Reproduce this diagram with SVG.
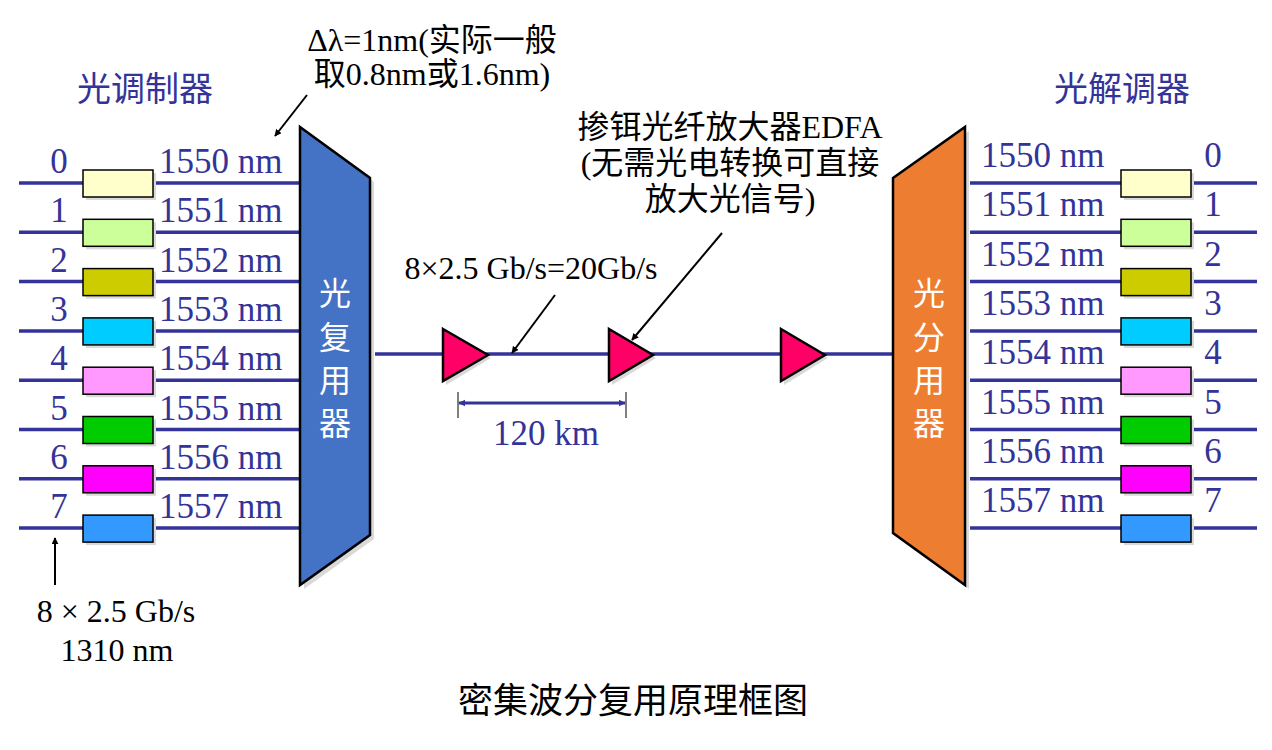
<svg xmlns="http://www.w3.org/2000/svg" width="1272" height="750" viewBox="0 0 1272 750">
<defs>
<style>
.blue{font-family:"Liberation Serif","Noto Sans CJK SC",serif;font-size:35px;fill:#333399}
.blk{font-family:"Liberation Serif","Noto Sans CJK SC",serif;font-size:32px;fill:#000}
.cjkb{font-family:"Noto Sans CJK SC",sans-serif;font-size:34px;fill:#333399}
.white{font-family:"Noto Sans CJK SC",sans-serif;font-size:32px;fill:#fff}
.title{font-family:"Noto Sans CJK SC",sans-serif;font-size:35px;fill:#000}
.fiber{stroke:#333399;stroke-width:3.5;fill:none}
.box{stroke:#000;stroke-width:1.5}
.shadow{fill:#d9d9d9}
.amp{fill:#FF0066;stroke:#000;stroke-width:2.5;stroke-linejoin:miter}
.ptr{stroke:#000;stroke-width:2;fill:none;marker-end:url(#ah)}
</style>
<marker id="ah" viewBox="0 0 10 10" refX="9" refY="5" markerWidth="7" markerHeight="7" orient="auto" markerUnits="userSpaceOnUse">
<path d="M0,0 L10,5 L0,10 z" fill="#000"/>
</marker>
<marker id="bh" viewBox="0 0 10 10" refX="9" refY="5" markerWidth="7" markerHeight="8" orient="auto-start-reverse" markerUnits="userSpaceOnUse">
<path d="M0,0 L10,5 L0,10 z" fill="#333399"/>
</marker>
</defs>
<rect width="1272" height="750" fill="#fff"/>

<g id="connectors">
<g id="left-fibers" class="fiber">
<path d="M19,183H300M19,232.3H300M19,281.6H300M19,330.9H300M19,380.2H300M19,429.5H300M19,478.8H300M19,528.1H300"/>
</g>
<g id="right-fibers" class="fiber">
<path d="M970,183H1257M970,232.3H1257M970,281.6H1257M970,330.9H1257M970,380.2H1257M970,429.5H1257M970,478.8H1257M970,528.1H1257"/>
</g>
<path id="trunk" class="fiber" d="M375,354H893"/>
<path class="ptr" d="M307,95L275,136"/>
<path class="ptr" d="M555,295L512,353"/>
<path class="ptr" d="M722,233L632,340"/>
<path class="ptr" d="M55,585V538"/>
<g id="dimension">
<path d="M458,392V418M626,392V418" stroke="#000" stroke-width="1"/>
<path d="M459,403H625" stroke="#333399" stroke-width="3" marker-start="url(#bh)" marker-end="url(#bh)"/>
</g>
</g>

<g id="modulator-boxes">
<g class="shadow">
<rect x="86" y="173" width="70" height="27"/><rect x="86" y="222.3" width="70" height="27"/><rect x="86" y="271.6" width="70" height="27"/><rect x="86" y="320.9" width="70" height="27"/><rect x="86" y="370.2" width="70" height="27"/><rect x="86" y="419.5" width="70" height="27"/><rect x="86" y="468.8" width="70" height="27"/><rect x="86" y="518.1" width="70" height="27"/>
</g>
<rect class="box" x="83" y="170" width="70" height="27" fill="#FFFFCC"/>
<rect class="box" x="83" y="219.3" width="70" height="27" fill="#CCFF99"/>
<rect class="box" x="83" y="268.6" width="70" height="27" fill="#CCCC00"/>
<rect class="box" x="83" y="317.9" width="70" height="27" fill="#00CCFF"/>
<rect class="box" x="83" y="367.2" width="70" height="27" fill="#FF99FF"/>
<rect class="box" x="83" y="416.5" width="70" height="27" fill="#00CC00"/>
<rect class="box" x="83" y="465.8" width="70" height="27" fill="#FF00FF"/>
<rect class="box" x="83" y="515.1" width="70" height="27" fill="#3399FF"/>
</g>

<g id="demodulator-boxes">
<g class="shadow">
<rect x="1124" y="173" width="70" height="27"/><rect x="1124" y="222.3" width="70" height="27"/><rect x="1124" y="271.6" width="70" height="27"/><rect x="1124" y="320.9" width="70" height="27"/><rect x="1124" y="370.2" width="70" height="27"/><rect x="1124" y="419.5" width="70" height="27"/><rect x="1124" y="468.8" width="70" height="27"/><rect x="1124" y="518.1" width="70" height="27"/>
</g>
<rect class="box" x="1121" y="170" width="70" height="27" fill="#FFFFCC"/>
<rect class="box" x="1121" y="219.3" width="70" height="27" fill="#CCFF99"/>
<rect class="box" x="1121" y="268.6" width="70" height="27" fill="#CCCC00"/>
<rect class="box" x="1121" y="317.9" width="70" height="27" fill="#00CCFF"/>
<rect class="box" x="1121" y="367.2" width="70" height="27" fill="#FF99FF"/>
<rect class="box" x="1121" y="416.5" width="70" height="27" fill="#00CC00"/>
<rect class="box" x="1121" y="465.8" width="70" height="27" fill="#FF00FF"/>
<rect class="box" x="1121" y="515.1" width="70" height="27" fill="#3399FF"/>
</g>

<g id="mux">
<polygon points="304,131 374,182 374,539 304,589" fill="#d9d9d9"/>
<polygon points="300,127 370,178 370,535 300,585" fill="#4472C4" stroke="#000" stroke-width="2.5"/>
<g class="white" text-anchor="middle">
<text x="335" y="305">光</text><text x="335" y="349">复</text><text x="335" y="392">用</text><text x="335" y="435">器</text>
</g>
</g>

<g id="demux">
<polygon points="897,182 969,131 969,589 897,537" fill="#d9d9d9"/>
<polygon points="893,178 965,127 965,585 893,533" fill="#ED7D31" stroke="#000" stroke-width="2.5"/>
<g class="white" text-anchor="middle">
<text x="929" y="305">光</text><text x="929" y="349">分</text><text x="929" y="392">用</text><text x="929" y="435">器</text>
</g>
</g>

<g id="amplifiers">
<g class="shadow">
<polygon points="446,332 491,358 446,385"/><polygon points="612,332 656,358 612,385"/><polygon points="784,332 828,358 784,385"/>
</g>
<polygon id="amp1" class="amp" points="443,329 488,355 443,381"/>
<polygon id="amp2" class="amp" points="609,329 653,355 609,381"/>
<polygon id="amp3" class="amp" points="781,329 825,355 781,381"/>
</g>

<g id="left-labels" class="blue">
<g text-anchor="middle">
<text x="59" y="173">0</text><text x="59" y="222.3">1</text><text x="59" y="271.6">2</text><text x="59" y="320.9">3</text><text x="59" y="370.2">4</text><text x="59" y="419.5">5</text><text x="59" y="468.8">6</text><text x="59" y="518.1">7</text>
</g>
<text x="159" y="173">1550 nm</text><text x="159" y="222.3">1551 nm</text><text x="159" y="271.6">1552 nm</text><text x="159" y="320.9">1553 nm</text><text x="159" y="370.2">1554 nm</text><text x="159" y="419.5">1555 nm</text><text x="159" y="468.8">1556 nm</text><text x="159" y="518.1">1557 nm</text>
</g>

<g id="right-labels" class="blue">
<g text-anchor="middle">
<text x="1213" y="167">0</text><text x="1213" y="216.3">1</text><text x="1213" y="265.6">2</text><text x="1213" y="314.9">3</text><text x="1213" y="364.2">4</text><text x="1213" y="413.5">5</text><text x="1213" y="462.8">6</text><text x="1213" y="512.1">7</text>
</g>
<text x="981" y="167">1550 nm</text><text x="981" y="216.3">1551 nm</text><text x="981" y="265.6">1552 nm</text><text x="981" y="314.9">1553 nm</text><text x="981" y="364.2">1554 nm</text><text x="981" y="413.5">1555 nm</text><text x="981" y="462.8">1556 nm</text><text x="981" y="512.1">1557 nm</text>
</g>

<g id="titles">
<text class="cjkb" x="145" y="101" text-anchor="middle" font-size="35">光调制器</text>
<text class="cjkb" x="1122" y="101" text-anchor="middle" font-size="35">光解调器</text>
<text class="title" x="633" y="713" text-anchor="middle">密集波分复用原理框图</text>
</g>

<g id="annotations" class="blk" text-anchor="middle">
<text x="432" y="51">Δλ=1nm(实际一般</text>
<text x="432" y="85">取0.8nm或1.6nm)</text>
<text x="730" y="138">掺铒光纤放大器EDFA</text>
<text x="730" y="174">(无需光电转换可直接</text>
<text x="730" y="210">放大光信号)</text>
<text x="531" y="279">8×2.5 Gb/s=20Gb/s</text>
<text x="116" y="622">8 × 2.5 Gb/s</text>
<text x="117" y="661">1310 nm</text>
</g>
<text class="blue" x="546" y="445" text-anchor="middle">120 km</text>
</svg>
